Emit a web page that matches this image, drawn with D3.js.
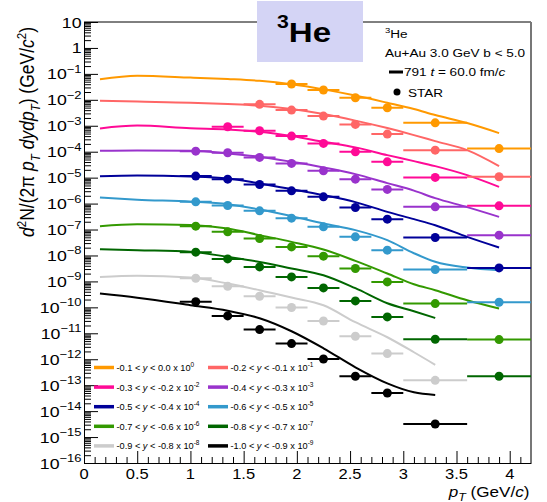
<!DOCTYPE html>
<html><head><meta charset="utf-8">
<script src="https://cdn.jsdelivr.net/npm/d3@7"></script>
<style>
body{margin:0;background:#fff}
text{font-family:"Liberation Sans",Arial,Helvetica,sans-serif;fill:#000}
</style>
</head><body>
<svg id="chart" width="547" height="502"></svg>
<script>
// pT binning of the measured points (GeV/c)
const binEdges = [0.9, 1.2, 1.5, 1.8, 2.1, 2.4, 2.7, 3.0, 3.6, 4.2];
const binCenters = [1.05, 1.35, 1.65, 1.95, 2.25, 2.55, 2.85, 3.3, 3.9];

// rapidity slices, scale factors and colours
const rapidityLow  = ["-0.1", "-0.2", "-0.3", "-0.4", "-0.5", "-0.6", "-0.7", "-0.8", "-0.9", "-1.0"];
const rapidityHigh = ["0.0", "-0.1", "-0.2", "-0.3", "-0.4", "-0.5", "-0.6", "-0.7", "-0.8", "-0.9"];
const scaleExponents = ["0", "-1", "-2", "-3", "-4", "-5", "-6", "-7", "-8", "-9"];
const sliceColors = ["#ff9900", "#ff6666", "#ff0a96", "#9933cc", "#000099",
                     "#3399cc", "#339900", "#006600", "#cccccc", "#000000"];

// STAR spectra (scaled), one value per pT bin, null where no point
const star0 = [null, null, null, 4.06e-2, 2.38e-2, 1.20e-2, 4.94e-3, 1.30e-3, 1.32e-4];
const star1 = [null, null, 6.68e-3, 4.03e-3, 2.36e-3, 1.13e-3, 4.78e-4, 1.15e-4, 1.08e-5];
const star2 = [null, 9.14e-4, 6.40e-4, 4.00e-4, 2.09e-4, 9.91e-5, 4.07e-5, 1.02e-5, 8.18e-7];
const star3 = [1.05e-4, 9.08e-5, 6.03e-5, 3.54e-5, 1.83e-5, 8.77e-6, 3.51e-6, 7.48e-7, 6.05e-8];
const star4 = [1.15e-5, 8.77e-6, 5.47e-6, 3.10e-6, 1.82e-6, 7.10e-7, 2.51e-7, 4.94e-8, 3.32e-9];
const star5 = [1.17e-6, 8.48e-7, 5.25e-7, 2.74e-7, 1.27e-7, 5.21e-8, 1.60e-8, 2.88e-9, 1.58e-10];
const star6 = [1.35e-7, 8.13e-8, 4.52e-8, 2.14e-8, 9.38e-9, 3.15e-9, 9.57e-10, 1.40e-10, 5.73e-12];
const star7 = [1.34e-8, 7.38e-9, 3.62e-9, 1.49e-9, 5.61e-10, 1.77e-10, 4.27e-11, 5.89e-12, 2.20e-13];
const star8 = [1.33e-9, 6.53e-10, 2.69e-10, 9.84e-11, 2.99e-11, 7.69e-12, 1.65e-12, 1.54e-13, null];
const star9 = [1.65e-10, 4.67e-11, 1.39e-11, 4.02e-12, 1.02e-12, 2.20e-13, 4.99e-14, 3.18e-15, null];

// model (791, t = 60 fm/c) curves
const modelPt      = [0.15, 0.5, 1.0, 1.35, 1.65, 1.95, 2.25, 2.55, 2.85, 3.1, 3.3, 3.6, 3.9];
const modelPtShort = [0.15, 0.5, 1.0, 1.35, 1.65, 1.95, 2.25, 2.55, 2.85, 3.1, 3.3];
const model0 = [6.16e-2, 8.48e-2, 7.22e-2, 6.32e-2, 5.39e-2, 3.98e-2, 2.53e-2, 1.46e-2, 7.70e-3, 4.40e-3, 2.58e-3, 1.27e-3, 5.22e-4];
const model1 = [9.20e-3, 8.57e-3, 7.77e-3, 6.86e-3, 5.90e-3, 4.40e-3, 2.82e-3, 1.58e-3, 8.14e-4, 4.37e-4, 2.56e-4, 1.15e-4, 2.78e-5];
const model2 = [7.92e-4, 1.02e-3, 7.99e-4, 7.25e-4, 5.86e-4, 4.00e-4, 2.41e-4, 1.47e-4, 7.39e-5, 4.34e-5, 2.78e-5, 1.25e-5, 4.42e-6];
const model3 = [1.08e-4, 1.12e-4, 1.08e-4, 8.60e-5, 6.36e-5, 4.08e-5, 2.48e-5, 1.37e-5, 6.15e-6, 3.16e-6, 1.62e-6, 7.29e-7, 3.08e-7];
const model4 = [1.14e-5, 1.20e-5, 1.11e-5, 9.33e-6, 5.98e-6, 3.61e-6, 2.12e-6, 1.14e-6, 4.80e-7, 2.51e-7, 1.47e-7, 5.21e-8, 2.03e-8];
const model5 = [1.73e-6, 1.42e-6, 1.19e-6, 9.51e-7, 5.94e-7, 3.28e-7, 1.71e-7, 9.50e-8, 3.89e-8, 1.22e-8, 5.75e-9, 3.44e-9, 2.70e-9];
const model6 = [1.35e-7, 1.61e-7, 1.50e-7, 1.10e-7, 6.06e-8, 3.34e-8, 1.70e-8, 6.18e-9, 2.02e-9, 7.80e-10, 4.58e-10, 1.88e-10, 9.01e-11];
const model7 = [1.75e-8, 1.60e-8, 1.40e-8, 8.81e-9, 5.65e-9, 3.15e-9, 1.73e-9, 5.47e-10, 1.44e-10, 7.09e-11, 3.91e-11];
const model8 = [1.49e-9, 1.66e-9, 1.41e-9, 8.30e-10, 4.58e-10, 2.39e-10, 1.21e-10, 2.67e-11, 7.04e-12, 1.86e-12, 6.11e-13];
const model9 = [3.41e-10, 2.35e-10, 1.21e-10, 7.41e-11, 3.80e-11, 1.20e-11, 2.65e-12, 4.90e-13, 1.18e-13, 5.31e-14, 4.18e-14];

// axis ticks
const xMajorTicks = [0, 0.5, 1, 1.5, 2, 2.5, 3, 3.5, 4];
const xTickLabels = ["0", "0.5", "1", "1.5", "2", "2.5", "3", "3.5", "4"];
const yDecadeExponents = d3.range(1, -17, -1);

const starSets = [star0, star1, star2, star3, star4, star5, star6, star7, star8, star9];
const modelSets = [model0, model1, model2, model3, model4, model5, model6, model7, model8, model9];
const modelGrids = [modelPt, modelPt, modelPt, modelPt, modelPt, modelPt, modelPt,
                    modelPtShort, modelPtShort, modelPtShort];

const svg = d3.select("#chart");
const L = 84, R = 531, T = 22, B = 463;
const SX = 1.18; // horizontal text stretch

const x = d3.scaleLinear().domain([0, 4.2]).range([L, R]);
const y = d3.scaleLog().domain([1e-16, 10]).range([B, T]);

function label(parent, px, py, size, anchor, extra, sx) {
  return parent.append("text")
    .attr("transform", `translate(${px},${py}) scale(${sx || SX},1)` + (extra || ""))
    .attr("text-anchor", anchor || "start")
    .style("font-size", size + "px");
}
function rich(t, parts, size) {
  let shift = 0;
  parts.forEach(p => {
    const s = typeof p === "string" ? { t: p } : p;
    const target = s.sup ? -(s.raise || size * 0.42) : s.sub ? (s.lower || size * 0.28) : 0;
    const ts = t.append("tspan").text(s.t).attr("dy", target - shift);
    if (s.sup || s.sub) ts.style("font-size", (s.fs || size * 0.72) + "px");
    if (s.i) ts.style("font-style", "italic");
    if (s.b) ts.style("font-weight", "bold");
    shift = target;
  });
}

// ---- axes ----
const decades = yDecadeExponents.map(e => Math.pow(10, e));
const yMinor = [];
decades.forEach(d => { if (d < 10) for (let k = 2; k <= 9; k++) yMinor.push(d * k); });

svg.append("g").attr("transform", `translate(${L},0)`)
  .call(d3.axisLeft(y).tickValues(yMinor).tickSize(-7).tickSizeOuter(0).tickFormat(""))
  .call(g => g.select(".domain").remove());
svg.append("g").attr("transform", `translate(${L},0)`)
  .call(d3.axisLeft(y).tickValues(decades).tickSize(-14).tickSizeOuter(0).tickFormat(""));

const xMinor = d3.range(0, 42).map(i => i / 10).filter(v => Math.abs(v * 2 - Math.round(v * 2)) > 1e-6);
svg.append("g").attr("transform", `translate(0,${B})`)
  .call(d3.axisBottom(x).tickValues(xMinor).tickSize(-6).tickSizeOuter(0).tickFormat(""))
  .call(g => g.select(".domain").remove());
svg.append("g").attr("transform", `translate(0,${B})`)
  .call(d3.axisBottom(x).tickValues(xMajorTicks).tickSize(-12).tickSizeOuter(0).tickFormat(""));
svg.selectAll(".tick line").attr("stroke", "#000");
svg.selectAll(".domain").attr("stroke", "#000");

// frame top and right
svg.append("line").attr("x1", L).attr("x2", R).attr("y1", T).attr("y2", T).attr("stroke", "#000");
svg.append("line").attr("x1", R).attr("x2", R).attr("y1", T).attr("y2", B).attr("stroke", "#777").attr("stroke-width", 2);

// y tick labels
yDecadeExponents.forEach(e => {
  const t = label(svg, 81.5, y(Math.pow(10, e)) + 5.5, 15, "end");
  if (e === 1) rich(t, ["10"], 15);
  else if (e === 0) rich(t, ["1"], 15);
  else rich(t, ["10", { t: "\u2212" + (-e), sup: true, fs: 11, raise: 6.5 }], 15);
});
// x tick labels
xMajorTicks.forEach((v, i) => {
  label(svg, x(v), 479, 14, "middle").text(xTickLabels[i]);
});

// axis titles
rich(label(svg, 529.5, 497, 14.5, "end"),
  [{ t: "p", i: true }, { t: "T", sub: true, i: true, fs: 10.5, lower: 4 }, " (GeV/", { t: "c", i: true }, ")"], 14.5);
rich(label(svg, 34.3, 132, 17.5, "middle", " rotate(-90)", 1.12),
  [{ t: "d", i: true }, { t: "2", sup: true, fs: 11.5 }, "N/(2\u03c0 ", { t: "p", i: true },
   { t: "T", sub: true, i: true, fs: 11.5 }, { t: " dydp", i: true }, { t: "T", sub: true, i: true, fs: 11.5 },
   ") (GeV/", { t: "c", i: true }, { t: "2", sup: true, fs: 11.5 }, ")"], 17.5);

// ---- model curves ----
const line = d3.line().x(d => x(d[0])).y(d => y(d[1])).curve(d3.curveMonotoneX);
modelSets.forEach((vals, i) => {
  const pts = modelGrids[i].map((p, j) => [p, vals[j]]);
  svg.append("path").attr("d", line(pts)).attr("fill", "none")
    .attr("stroke", sliceColors[i]).attr("stroke-width", 2);
});

// ---- STAR points with pT bin widths ----
starSets.forEach((vals, i) => {
  const g = svg.append("g");
  vals.forEach((v, j) => {
    if (v == null) return;
    g.append("line").attr("x1", x(binEdges[j])).attr("x2", x(binEdges[j + 1]))
      .attr("y1", y(v)).attr("y2", y(v)).attr("stroke", sliceColors[i]).attr("stroke-width", 2);
    g.append("circle").attr("cx", x(binCenters[j])).attr("cy", y(v)).attr("r", 4.5)
      .attr("fill", sliceColors[i]);
  });
});

// ---- legend ----
const legend = svg.append("g");
sliceColors.forEach((c, i) => {
  const col = i % 2, row = Math.floor(i / 2);
  const lx = col === 0 ? 94 : 208;
  const ly = 367.5 + row * 19.6;
  legend.append("line").attr("x1", lx).attr("x2", lx + 20).attr("y1", ly).attr("y2", ly)
    .attr("stroke", c).attr("stroke-width", 3.5);
  rich(label(legend, lx + 22.5, ly + 3.5, 9.2, "start", "", 1.0),
    [rapidityLow[i] + " < ", { t: "y", i: true }, " < " + rapidityHigh[i] + " x 10",
     { t: scaleExponents[i], sup: true, fs: 6.5, raise: 4 }], 9.2);
});

// ---- annotation ----
rich(label(svg, 385, 38, 11.5, "start"), [{ t: "3", sup: true, fs: 8, raise: 5 }, "He"], 11.5);
label(svg, 385, 56.5, 11.5, "start").text("Au+Au 3.0 GeV b < 5.0");
svg.append("line").attr("x1", 389).attr("x2", 403).attr("y1", 72).attr("y2", 72)
  .attr("stroke", "#000").attr("stroke-width", 3);
rich(label(svg, 404, 76, 11.5, "start"), ["791 ", { t: "t", i: true }, " = 60.0 fm/", { t: "c", i: true }], 11.5);
svg.append("circle").attr("cx", 397).attr("cy", 92).attr("r", 3.5).attr("fill", "#000");
label(svg, 408, 96.5, 11.5, "start").text("STAR");

// ---- particle tag ----
svg.append("rect").attr("x", 257).attr("y", 1).attr("width", 106).attr("height", 61).attr("fill", "#d4d4f5");
rich(label(svg, 277, 42, 28, "start"),
  [{ t: "3", sup: true, fs: 18, raise: 14, b: true }, { t: "He", b: true }], 28);
</script>
</body></html>
